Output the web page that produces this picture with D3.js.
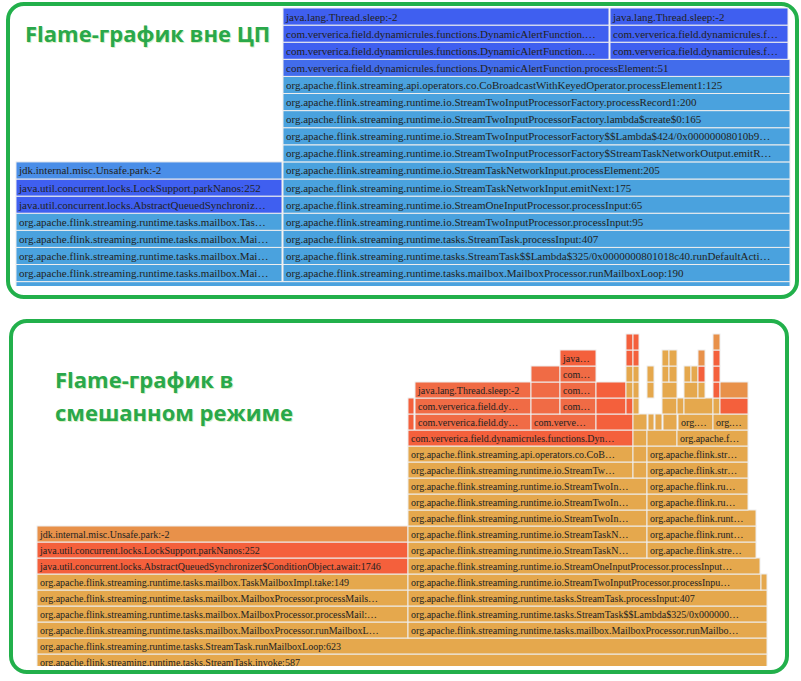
<!DOCTYPE html>
<html><head><meta charset="utf-8">
<script src="https://cdn.jsdelivr.net/npm/d3@7"></script>
<style>body{margin:0;background:#fff}</style>
</head><body>
<svg id="c" width="801" height="681"></svg>
<script>
// frames: [depth, start, end, label, colour key]
const P = "org.apache.flink.streaming.runtime.";
const topFrames = [
  [-1, 0, 774, "", "l"],
  [0, 0, 266, "org.apache.flink.streaming.runtime.tasks.mailbox.Mai…", "l"],
  [0, 267, 774, P + "tasks.mailbox.MailboxProcessor.runMailboxLoop:190", "l"],
  [1, 0, 266, "org.apache.flink.streaming.runtime.tasks.mailbox.Mai…", "l"],
  [1, 267, 774, P + "tasks.StreamTask$$Lambda$325/0x0000000801018c40.runDefaultActi…", "l"],
  [2, 0, 266, "org.apache.flink.streaming.runtime.tasks.mailbox.Mai…", "l"],
  [2, 267, 774, P + "tasks.StreamTask.processInput:407", "l"],
  [3, 0, 266, "org.apache.flink.streaming.runtime.tasks.mailbox.Tas…", "l"],
  [3, 267, 774, P + "io.StreamTwoInputProcessor.processInput:95", "l"],
  [4, 0, 266, "java.util.concurrent.locks.AbstractQueuedSynchroniz…", "d"],
  [4, 267, 774, P + "io.StreamOneInputProcessor.processInput:65", "l"],
  [5, 0, 266, "java.util.concurrent.locks.LockSupport.parkNanos:252", "d"],
  [5, 267, 774, P + "io.StreamTaskNetworkInput.emitNext:175", "l"],
  [6, 0, 266, "jdk.internal.misc.Unsafe.park:-2", "m"],
  [6, 267, 774, P + "io.StreamTaskNetworkInput.processElement:205", "l"],
  [7, 267, 774, P + "io.StreamTwoInputProcessorFactory$StreamTaskNetworkOutput.emitR…", "l"],
  [8, 267, 774, P + "io.StreamTwoInputProcessorFactory$$Lambda$424/0x00000008010b9…", "l"],
  [9, 267, 774, P + "io.StreamTwoInputProcessorFactory.lambda$create$0:165", "l"],
  [10, 267, 774, P + "io.StreamTwoInputProcessorFactory.processRecord1:200", "l"],
  [11, 267, 774, "org.apache.flink.streaming.api.operators.co.CoBroadcastWithKeyedOperator.processElement1:125", "l"],
  [12, 267, 774, "com.ververica.field.dynamicrules.functions.DynamicAlertFunction.processElement:51", "b"],
  [13, 267, 593, "com.ververica.field.dynamicrules.functions.DynamicAlertFunction.…", "d"],
  [13, 594, 772, "com.ververica.field.dynamicrules.f…", "d"],
  [14, 267, 593, "com.ververica.field.dynamicrules.functions.DynamicAlertFunction.…", "d"],
  [14, 594, 772, "com.ververica.field.dynamicrules.f…", "d"],
  [15, 267, 593, "java.lang.Thread.sleep:-2", "d"],
  [15, 594, 772, "java.lang.Thread.sleep:-2", "d"]
];
const botFrames = [
  [0, 0, 730, "org.apache.flink.streaming.runtime.tasks.StreamTask.invoke:587", "y"],
  [1, 0, 730, "org.apache.flink.streaming.runtime.tasks.StreamTask.runMailboxLoop:623", "y"],
  [2, 0, 371, "org.apache.flink.streaming.runtime.tasks.mailbox.MailboxProcessor.runMailboxL…", "y"],
  [2, 371, 730, "org.apache.flink.streaming.runtime.tasks.mailbox.MailboxProcessor.runMailbo…", "y"],
  [3, 0, 371, "org.apache.flink.streaming.runtime.tasks.mailbox.MailboxProcessor.processMail:…", "y"],
  [3, 371, 730, "org.apache.flink.streaming.runtime.tasks.StreamTask$$Lambda$325/0x000000…", "y"],
  [4, 0, 371, "org.apache.flink.streaming.runtime.tasks.mailbox.MailboxProcessor.processMails…", "y"],
  [4, 371, 730, "org.apache.flink.streaming.runtime.tasks.StreamTask.processInput:407", "y"],
  [5, 0, 371, "org.apache.flink.streaming.runtime.tasks.mailbox.TaskMailboxImpl.take:149", "y"],
  [5, 371, 724, "org.apache.flink.streaming.runtime.io.StreamTwoInputProcessor.processInpu…", "y"],
  [5, 724, 730, "", "y"],
  [6, 0, 371, "java.util.concurrent.locks.AbstractQueuedSynchronizer$ConditionObject.await:1746", "r"],
  [6, 371, 723, "org.apache.flink.streaming.runtime.io.StreamOneInputProcessor.processInput…", "y"],
  [7, 0, 371, "java.util.concurrent.locks.LockSupport.parkNanos:252", "r"],
  [7, 371, 610, "org.apache.flink.streaming.runtime.io.StreamTaskN…", "y"],
  [7, 610, 719, "org.apache.flink.stre…", "y"],
  [8, 0, 371, "jdk.internal.misc.Unsafe.park:-2", "o"],
  [8, 371, 610, "org.apache.flink.streaming.runtime.io.StreamTaskN…", "y"],
  [8, 610, 719, "org.apache.flink.runt…", "y"],
  [9, 371, 610, "org.apache.flink.streaming.runtime.io.StreamTwoIn…", "y"],
  [9, 610, 719, "org.apache.flink.runt…", "y"],
  [10, 371, 610, "org.apache.flink.streaming.runtime.io.StreamTwoIn…", "y"],
  [10, 610, 711, "org.apache.flink.ru…", "y"],
  [11, 371, 610, "org.apache.flink.streaming.runtime.io.StreamTwoIn…", "y"],
  [11, 610, 711, "org.apache.flink.ru…", "y"],
  [12, 371, 596, "org.apache.flink.streaming.runtime.io.StreamTw…", "y"],
  [12, 596, 610, "", "y"],
  [12, 610, 711, "org.apache.flink.str…", "y"],
  [13, 371, 596, "org.apache.flink.streaming.api.operators.co.CoB…", "y"],
  [13, 596, 610, "", "y"],
  [13, 610, 711, "org.apache.flink.str…", "y"],
  [14, 371, 596, "com.ververica.field.dynamicrules.functions.Dyn…", "r"],
  [14, 596, 610, "", "y"],
  [14, 610, 640, "", "y"],
  [14, 640, 711, "org.apache.f…", "y"],
  [15, 371, 377, "", "r"],
  [15, 378, 494, "com.ververica.field.dy…", "s"],
  [15, 494, 559, "com.verve…", "s"],
  [15, 559, 596, "", "r"],
  [15, 596, 610, "", "y"],
  [15, 611, 617, "", "y"],
  [15, 618, 625, "", "y"],
  [15, 626, 640, "", "y"],
  [15, 641, 676, "org.…", "y"],
  [15, 676, 711, "org.…", "y"],
  [16, 371, 377, "", "r"],
  [16, 378, 494, "com.ververica.field.dy…", "s"],
  [16, 494, 523, "", "s"],
  [16, 523, 559, "com…", "s"],
  [16, 559, 589, "", "r"],
  [16, 589, 596, "", "r"],
  [16, 596, 602, "", "y"],
  [16, 625, 640, "", "y"],
  [16, 640, 647, "", "y"],
  [16, 647, 676, "", "y"],
  [16, 676, 683, "", "y"],
  [16, 683, 711, "", "r"],
  [17, 378, 494, "java.lang.Thread.sleep:-2", "s"],
  [17, 494, 523, "", "s"],
  [17, 523, 559, "com…", "s"],
  [17, 559, 589, "", "r"],
  [17, 589, 596, "", "y"],
  [17, 596, 602, "", "y"],
  [17, 610, 617, "", "y"],
  [17, 625, 640, "", "y"],
  [17, 647, 661, "", "y"],
  [17, 661, 668, "", "y"],
  [17, 676, 683, "", "r"],
  [17, 683, 711, "", "o"],
  [18, 494, 523, "", "s"],
  [18, 523, 559, "com…", "s"],
  [18, 589, 596, "", "y"],
  [18, 596, 602, "", "y"],
  [18, 610, 617, "", "y"],
  [18, 625, 632, "", "y"],
  [18, 632, 640, "", "y"],
  [18, 647, 654, "", "y"],
  [18, 654, 661, "", "y"],
  [18, 661, 668, "", "r"],
  [18, 676, 683, "", "r"],
  [19, 523, 559, "java…", "r"],
  [19, 589, 596, "", "r"],
  [19, 596, 602, "", "r"],
  [19, 625, 632, "", "y"],
  [19, 632, 640, "", "y"],
  [19, 661, 668, "", "o"],
  [19, 676, 683, "", "r"],
  [20, 589, 596, "", "r"],
  [20, 596, 602, "", "r"],
  [20, 676, 683, "", "o"]
];
const colours = {
  l: "#4aa2de", m: "#4a8ee8", d: "#3f5ff0", b: "#426ceb",
  y: "#e5a84d", r: "#f4603c", s: "#f06b45", o: "#e8914a"
};

const svg = d3.select("#c");
const defs = svg.append("defs");
let clipId = 0;

function flame(frames, opt) {
  const x = d3.scaleLinear().domain(opt.domain).range(opt.range);
  const y = d => opt.base - opt.rowH * d;
  defs.append("clipPath").attr("id", "area" + opt.key)
    .append("rect").attr("x", 0).attr("y", opt.clipTop).attr("width", 801).attr("height", opt.clipBottom - opt.clipTop);
  const g = svg.append("g").attr("clip-path", "url(#area" + opt.key + ")");
  frames.forEach(f => {
    const x0 = x(f[1]), w = x(f[2]) - x(f[1]), y0 = y(f[0]);
    g.append("rect").attr("x", x0).attr("y", y0).attr("width", w).attr("height", opt.rowH)
      .attr("fill", colours[f[4]]).attr("stroke", "#eee").attr("stroke-width", 1);
    if (f[3]) {
      const id = "cl" + (clipId++);
      defs.append("clipPath").attr("id", id)
        .append("rect").attr("x", x0).attr("y", y0).attr("width", w - 1).attr("height", opt.rowH);
      g.append("text").attr("clip-path", "url(#" + id + ")")
        .attr("x", x0 + 3).attr("y", y0 + opt.rowH / 2 + opt.font * 0.36)
        .attr("font-family", "Liberation Serif, DejaVu Serif, serif")
        .attr("font-size", opt.font).attr("fill", "#222").text(f[3]);
    }
  });
}

// boxes
svg.append("rect").attr("x", 8).attr("y", 4).attr("width", 789).attr("height", 293).attr("rx", 16)
  .attr("fill", "#fff").attr("stroke", "#22b04b").attr("stroke-width", 4);
svg.append("rect").attr("x", 11).attr("y", 321).attr("width", 776).attr("height", 351).attr("rx", 16)
  .attr("fill", "#fff").attr("stroke", "#22b04b").attr("stroke-width", 4);

flame(topFrames, {key: "t", domain: [0, 774], range: [16, 790], base: 264.5, rowH: 17.1, font: 11, clipTop: 7, clipBottom: 286});
flame(botFrames, {key: "b", domain: [0, 730], range: [37, 767], base: 654, rowH: 16, font: 10, clipTop: 320, clipBottom: 666});

function title(lines, x, y0, dy) {
  lines.forEach((t, i) => {
    svg.append("text").attr("x", x + 1).attr("y", y0 + i * dy + 1).attr("fill", "#d8f0c0")
      .attr("font-family", "Open Sans, Noto Sans, sans-serif").attr("font-weight", "bold").attr("font-size", 22).text(t);
    svg.append("text").attr("x", x).attr("y", y0 + i * dy).attr("fill", "#2aa84a")
      .attr("font-family", "Open Sans, Noto Sans, sans-serif").attr("font-weight", "bold").attr("font-size", 22).text(t);
  });
}
title(["Flame-график вне ЦП"], 25, 42, 0);
title(["Flame-график в", "смешанном режиме"], 55, 388, 33);
</script>
</body></html>
